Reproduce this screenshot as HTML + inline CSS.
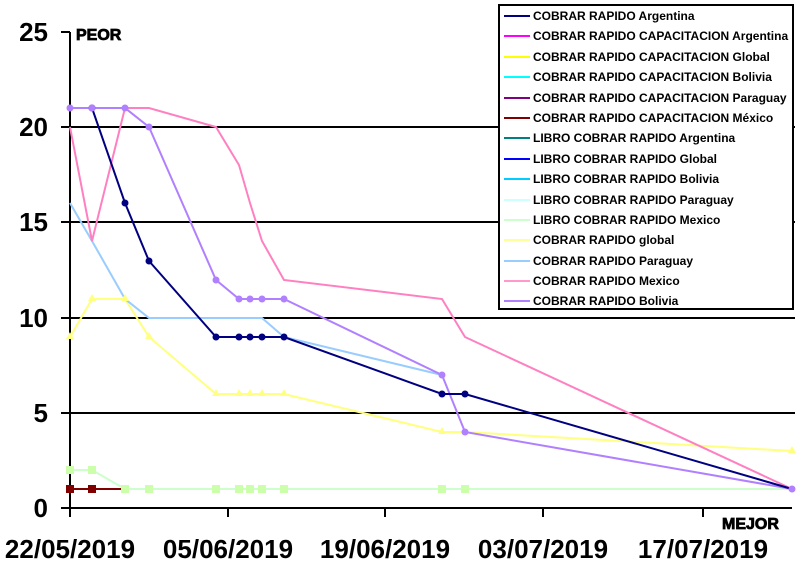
<!DOCTYPE html>
<html><head><style>
body{margin:0;background:#fff;width:800px;height:564px;overflow:hidden}
svg text{font-family:"Liberation Sans",Arial,sans-serif}
</style></head><body>
<svg width="800" height="564" viewBox="0 0 800 564" xmlns="http://www.w3.org/2000/svg">
<g stroke="#000" stroke-width="2">
<line x1="61" y1="32" x2="70" y2="32"/>
<line x1="61" y1="127" x2="795" y2="127"/>
<line x1="61" y1="222" x2="795" y2="222"/>
<line x1="61" y1="318" x2="795" y2="318"/>
<line x1="61" y1="413" x2="795" y2="413"/>
<line x1="61" y1="508" x2="792" y2="508"/>
<line x1="70" y1="32" x2="70" y2="517"/>
<line x1="228" y1="508" x2="228" y2="517"/>
<line x1="385" y1="508" x2="385" y2="517"/>
<line x1="543" y1="508" x2="543" y2="517"/>
<line x1="703" y1="508" x2="703" y2="517"/>
</g>
<g font-size="26" font-weight="bold" text-anchor="end" fill="#000">
<text x="48" y="41">25</text><text x="48" y="136">20</text><text x="48" y="231">15</text>
<text x="48" y="327">10</text><text x="48" y="422">5</text><text x="48" y="517">0</text>
</g>
<g font-size="26" font-weight="bold" text-anchor="middle" fill="#000">
<text x="70" y="558">22/05/2019</text><text x="228" y="558">05/06/2019</text>
<text x="385" y="558">19/06/2019</text><text x="543" y="558">03/07/2019</text>
<text x="703" y="558">17/07/2019</text>
</g>
<text x="76" y="40" font-size="16" font-weight="bold" stroke="#000" stroke-width="0.8">PEOR</text>
<text x="722" y="529" font-size="16" font-weight="bold" stroke="#000" stroke-width="0.8">MEJOR</text>
<g fill="none" stroke-width="2">
<polyline stroke="#ccffcc" points="70,470 92,470 125,489 149,489 216,489 239,489 250,489 262,489 284,489 442,489 465,489 792,489"/>
<polyline stroke="#800000" points="70,489 92,489 125,489"/>
<polyline stroke="#ffff80" points="70,337 92,299 125,299 149,337 216,394 239,394 250,394 262,394 284,394 442,432 465,432 792,451"/>
<polyline stroke="#99ccff" points="70,203 92,241 125,299 149,318 216,318 239,318 250,318 262,318 284,337 442,375"/>
<polyline stroke="#ff80c0" points="70,127 92,241 125,108 149,108 216,127 239,165 250,203 262,241 284,280 442,299 465,337 792,489"/>
<polyline stroke="#b080ff" points="70,108 92,108 125,108 149,127 216,280 239,299 250,299 262,299 284,299 442,375 465,432 792,489"/>
<polyline stroke="#000080" points="92,108 125,203 149,261 216,337 239,337 250,337 262,337 284,337 442,394 465,394 792,489"/>
</g>
<g fill="#ccffaa">
<rect x="66" y="466" width="8" height="8"/><rect x="88" y="466" width="8" height="8"/>
<rect x="121" y="485" width="8" height="8"/><rect x="145" y="485" width="8" height="8"/><rect x="212" y="485" width="8" height="8"/>
<rect x="235" y="485" width="8" height="8"/><rect x="246" y="485" width="8" height="8"/><rect x="258" y="485" width="8" height="8"/>
<rect x="280" y="485" width="8" height="8"/><rect x="438" y="485" width="8" height="8"/><rect x="461" y="485" width="8" height="8"/>
</g>
<g fill="#800000"><rect x="66" y="485" width="8" height="8"/><rect x="88" y="485" width="8" height="8"/></g>
<g fill="#ffff80">
<path d="M70,332 l4,7 h-8z M92,294 l4,7 h-8z M125,294 l4,7 h-8z M149,332 l4,7 h-8z M216,389 l4,7 h-8z M239,389 l4,7 h-8z M250,389 l4,7 h-8z M262,389 l4,7 h-8z M284,389 l4,7 h-8z M442,427 l4,7 h-8z M792,446 l4,7 h-8z"/>
</g>
<g fill="#000080">
<circle cx="92" cy="108" r="3.5"/><circle cx="125" cy="203" r="3.5"/><circle cx="149" cy="261" r="3.5"/>
<circle cx="216" cy="337" r="3.5"/><circle cx="239" cy="337" r="3.5"/><circle cx="250" cy="337" r="3.5"/>
<circle cx="262" cy="337" r="3.5"/><circle cx="284" cy="337" r="3.5"/><circle cx="442" cy="394" r="3.5"/><circle cx="465" cy="394" r="3.5"/>
</g>
<g fill="#b080ff">
<circle cx="70" cy="108" r="3.5"/><circle cx="92" cy="108" r="3.5"/><circle cx="125" cy="108" r="3.5"/><circle cx="149" cy="127" r="3.5"/>
<circle cx="216" cy="280" r="3.5"/><circle cx="239" cy="299" r="3.5"/><circle cx="250" cy="299" r="3.5"/><circle cx="262" cy="299" r="3.5"/>
<circle cx="284" cy="299" r="3.5"/><circle cx="442" cy="375" r="3.5"/><circle cx="465" cy="432" r="3.5"/><circle cx="792" cy="489" r="3.5"/>
</g>
<rect x="499" y="5" width="294" height="304" fill="#fff" stroke="#000" stroke-width="2"/>
<g font-size="12" font-weight="bold" fill="#000" stroke-width="2">
<line x1="504" y1="16" x2="530" y2="16" stroke="#000080"/><text x="533" y="20">COBRAR RAPIDO  Argentina</text>
<line x1="504" y1="36" x2="530" y2="36" stroke="#ff00ff"/><text x="533" y="40">COBRAR RAPIDO CAPACITACION Argentina</text>
<line x1="504" y1="57" x2="530" y2="57" stroke="#ffff00"/><text x="533" y="61">COBRAR RAPIDO CAPACITACION Global</text>
<line x1="504" y1="77" x2="530" y2="77" stroke="#00ffff"/><text x="533" y="81">COBRAR RAPIDO CAPACITACION Bolivia</text>
<line x1="504" y1="98" x2="530" y2="98" stroke="#800080"/><text x="533" y="102">COBRAR RAPIDO CAPACITACION Paraguay</text>
<line x1="504" y1="118" x2="530" y2="118" stroke="#800000"/><text x="533" y="122">COBRAR RAPIDO CAPACITACION México</text>
<line x1="504" y1="138" x2="530" y2="138" stroke="#008080"/><text x="533" y="142">LIBRO COBRAR RAPIDO Argentina</text>
<line x1="504" y1="159" x2="530" y2="159" stroke="#0000ff"/><text x="533" y="163">LIBRO COBRAR RAPIDO Global</text>
<line x1="504" y1="179" x2="530" y2="179" stroke="#00ccff"/><text x="533" y="183">LIBRO COBRAR RAPIDO Bolivia</text>
<line x1="504" y1="200" x2="530" y2="200" stroke="#ccffff"/><text x="533" y="204">LIBRO COBRAR RAPIDO Paraguay</text>
<line x1="504" y1="220" x2="530" y2="220" stroke="#ccffcc"/><text x="533" y="224">LIBRO COBRAR RAPIDO Mexico</text>
<line x1="504" y1="240" x2="530" y2="240" stroke="#ffff99"/><text x="533" y="244">COBRAR RAPIDO global</text>
<line x1="504" y1="261" x2="530" y2="261" stroke="#99ccff"/><text x="533" y="265">COBRAR RAPIDO Paraguay</text>
<line x1="504" y1="281" x2="530" y2="281" stroke="#ff99cc"/><text x="533" y="285">COBRAR RAPIDO Mexico</text>
<line x1="504" y1="301" x2="530" y2="301" stroke="#b080ff"/><text x="533" y="305">COBRAR RAPIDO Bolivia</text>
</g>
</svg>
</body></html>
